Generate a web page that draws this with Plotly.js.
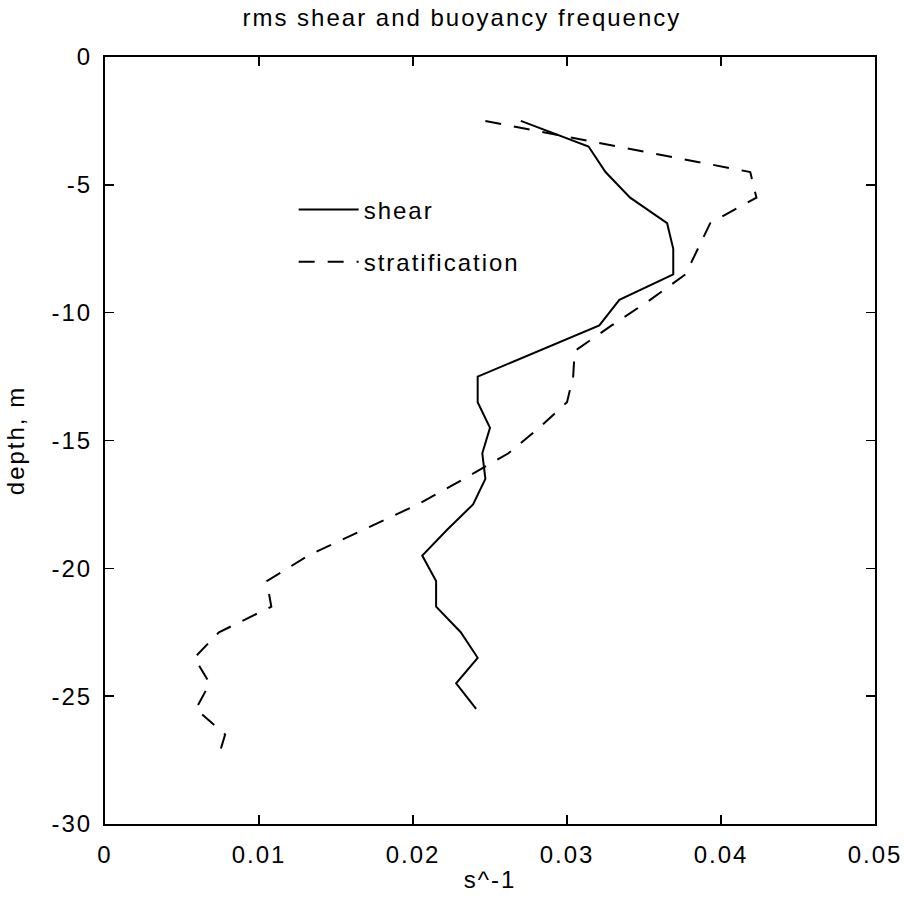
<!DOCTYPE html>
<html>
<head>
<meta charset="utf-8">
<script src="https://cdn.plot.ly/plotly-3.0.1.min.js"></script>
<style>
  html, body { margin: 0; padding: 0; background: #fff; }
  #chart { width: 911px; height: 905px; }
  svg text { letter-spacing: 2px; }
</style>
</head>
<body>
<div id="chart"></div>
<script>
// ---- data ----
const shearDepth = [-2.5,-3.5,-4.5,-5.5,-6.5,-7.5,-8.5,-9.5,-10.5,-11.5,-12.5,-13.5,-14.5,-15.5,-16.5,-17.5,-18.5,-19.5,-20.5,-21.5,-22.5,-23.5,-24.5,-25.5];
const shearRms = [0.0270,0.0314,0.0325,0.0341,0.0365,0.0369,0.0369,0.0334,0.0321,0.0281,0.0242,0.0242,0.0250,0.0245,0.0247,0.0239,0.0222,0.0206,0.0215,0.0215,0.0231,0.0242,0.0228,0.0241];

const stratDepth = [-2.5,-3.5,-4.5,-5.5,-6.5,-7.5,-8.5,-9.5,-10.5,-11.5,-12.5,-13.5,-14.5,-15.5,-16.5,-17.5,-18.5,-19.5,-20.5,-21.5,-22.5,-23.5,-24.5,-25.5,-26.5,-27.5];
const stratN = [0.0247,0.0333,0.0419,0.0423,0.0393,0.0385,0.0377,0.0354,0.0329,0.0305,0.0304,0.0300,0.0282,0.0262,0.0233,0.0203,0.0168,0.0132,0.0105,0.0108,0.0074,0.0058,0.0068,0.0059,0.0078,0.0073];

const xTickVals = [0, 0.01, 0.02, 0.03, 0.04, 0.05];
const xTickText = ["0", "0.01", "0.02", "0.03", "0.04", "0.05"];
const yTickVals = [0, -5, -10, -15, -20, -25, -30];
const yTickText = ["0", "-5", "-10", "-15", "-20", "-25", "-30"];

const FONT = "Liberation Sans, Arial, Helvetica, sans-serif";

const traces = [
  {
    x: shearRms, y: shearDepth, type: 'scatter', mode: 'lines',
    name: 'shear', legendgroup: 'a',
    line: { color: '#000', width: 2 }
  },
  {
    x: stratN, y: stratDepth, type: 'scatter', mode: 'lines',
    name: 'stratification', legendgroup: 'b',
    line: { color: '#000', width: 2, dash: '16px,13px' }
  }
];

const axisCommon = {
  showline: true, linecolor: '#000', linewidth: 2, mirror: 'ticks',
  ticks: 'inside', ticklen: 9, tickwidth: 1.5, tickcolor: '#000',
  showgrid: false, zeroline: false,
  tickfont: { family: FONT, size: 24, color: '#000' }
};

const layout = {
  width: 911, height: 905,
  margin: { l: 105, r: 36, t: 57, b: 81 },
  paper_bgcolor: '#fff', plot_bgcolor: '#fff',
  showlegend: true,
  title: {
    text: 'rms shear and buoyancy frequency',
    font: { family: FONT, size: 24, color: '#000' },
    x: 0.507, xref: 'container', xanchor: 'center',
    y: 0.981, yref: 'container', yanchor: 'middle'
  },
  xaxis: Object.assign({}, axisCommon, {
    range: [0, 0.05], tickvals: xTickVals, ticktext: xTickText,
    ticklabelstandoff: 8,
    title: { text: 's^-1', font: { family: FONT, size: 24, color: '#000' }, standoff: 4 }
  }),
  yaxis: Object.assign({}, axisCommon, {
    range: [-30, 0], tickvals: yTickVals, ticktext: yTickText,
    ticklabelstandoff: 6,
    title: { text: 'depth, m', font: { family: FONT, size: 24, color: '#000' }, standoff: 20 }
  }),
  legend: {
    x: 0.245, y: 0.83, xanchor: 'left', yanchor: 'top',
    bgcolor: 'rgba(0,0,0,0)', borderwidth: 0,
    font: { family: FONT, size: 24, color: '#000' },
    itemwidth: 60, tracegroupgap: 18, traceorder: 'grouped'
  }
};

Plotly.newPlot('chart', traces, layout, { displayModeBar: false, staticPlot: true });
</script>
</body>
</html>
